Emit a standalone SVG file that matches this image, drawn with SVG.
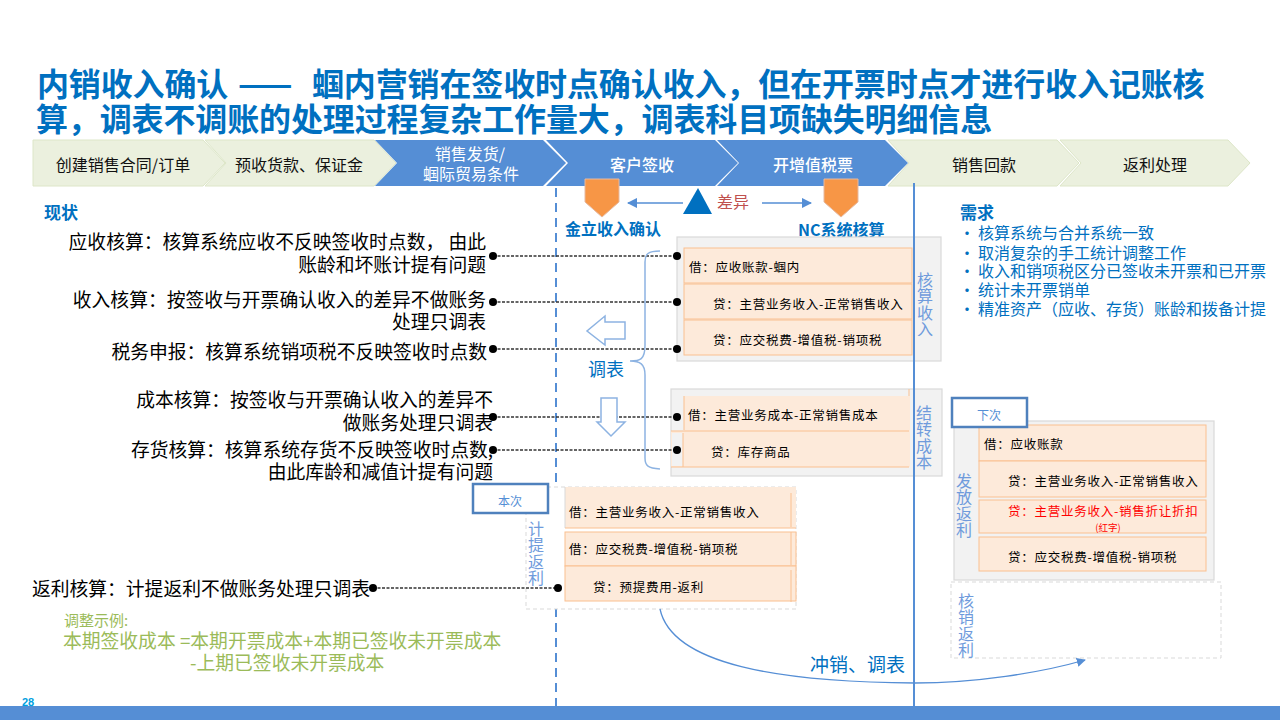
<svg xmlns="http://www.w3.org/2000/svg" width="1280" height="720" viewBox="0 0 1280 720">
<style>
text{font-family:"Noto Sans CJK SC","Liberation Sans",sans-serif}
.t{font-size:32px;font-weight:700;fill:#0070c0;letter-spacing:-.13px}
.cg{fill:#ebf0de;stroke:#dde6c8;stroke-width:1}
.cb{fill:#558ed5}
.cl{font-size:16px;text-anchor:middle;fill:#111}
.cw{font-size:16px;text-anchor:middle;fill:#fff}
.h{font-size:17px;font-weight:700;fill:#0070c0}
.b{font-size:18.8px;fill:#000;text-anchor:end}
.n{font-size:16px;fill:#0070c0}
.e{fill:#fdeada;stroke:#fac090;stroke-width:1}
.f{fill:#fdeada}
.o{stroke:#fac090;stroke-width:1;fill:none}
.g{fill:#f2f2f2;stroke:#d9d9d9;stroke-width:1.2}
.d{fill:#fff;stroke:#d9d9d9;stroke-width:1;stroke-dasharray:4 3}
.a{font-size:12.5px;fill:#000;letter-spacing:.75px}
.v{font-size:16px;fill:#6f9bdc;writing-mode:vertical-rl;letter-spacing:.3px}
.ln{stroke:#333;stroke-width:1.4;stroke-dasharray:3 1.5;fill:none}
.dot{fill:#000}
.box{fill:#fff;stroke:#4f81bd;stroke-width:2.5}
.bt{font-size:12px;fill:#558ed5;text-anchor:middle}
.ar{fill:#fff;stroke:#8db3e2;stroke-width:1.5}
.sh{fill:#f79646;stroke:#e6b9a0;stroke-width:1}
.gr{font-size:18.8px;fill:#9bbb59}
</style>
<defs>
<marker id="m" viewBox="0 0 10 10" refX="9" refY="5" markerWidth="7" markerHeight="7" orient="auto"><path d="M0 0L10 5L0 10Z" fill="#558ed5"/></marker>
</defs>
<g id="title">
<text class="t" y="96"><tspan x="37">内销收入确认</tspan><tspan x="238" letter-spacing="1">——</tspan><tspan x="312">蝈内营销在签收时点确认收入，但在开票时点才进行收入记账核</tspan></text>
<text class="t" x="36" y="131">算，调表不调账的处理过程复杂工作量大，调表科目项缺失明细信息</text>
</g>
<g id="process">
<path class="cg" d="M33 140H203L225 163L203 186H33Z"/>
<path class="cg" d="M205 140H374L396 163L374 186H205L226 163Z"/>
<path class="cb" d="M375 140H543L566 163L543 186H375L397 163Z"/>
<path class="cb" d="M546 140H715L738 163L715 186H546L568 163Z"/>
<path class="cb" d="M717 140H885L908 163L885 186H717L739 163Z"/>
<path class="cg" d="M888 140H1057L1079 163L1057 186H888L909 163Z"/>
<path class="cg" d="M1060 140H1228L1250 163L1228 186H1060L1081 163Z"/>
<text class="cl" x="123" y="171">创建销售合同/订单</text>
<text class="cl" x="299" y="171">预收货款、保证金</text>
<text class="cw" x="470" y="160">销售发货/</text>
<text class="cw" x="471" y="180">蝈际贸易条件</text>
<text class="cw" x="642" y="171" font-weight="500">客户签收</text>
<text class="cw" x="813" y="171" font-weight="500">开增值税票</text>
<text class="cl" x="984" y="171">销售回款</text>
<text class="cl" x="1155" y="171">返利处理</text>
</g>
<g id="guides">
<line x1="556" y1="188" x2="556" y2="706" stroke="#558ed5" stroke-width="2" stroke-dasharray="9 6"/>
</g>
<g id="status">
<text class="b" x="486" y="249">应收核算：核算系统应收不反映签收时点数， 由此</text>
<text class="b" x="486" y="272">账龄和坏账计提有问题</text>
<text class="b" x="486" y="307">收入核算：按签收与开票确认收入的差异不做账务</text>
<text class="b" x="486" y="329">处理只调表</text>
<text class="b" x="487" y="359">税务申报：核算系统销项税不反映签收时点数</text>
<text class="b" x="493" y="407">成本核算：按签收与开票确认收入的差异不</text>
<text class="b" x="493" y="430">做账务处理只调表</text>
<text class="b" x="493" y="457">存货核算：核算系统存货不反映签收时点数,</text>
<text class="b" x="493" y="479">由此库龄和减值计提有问题</text>
<text class="b" x="370" y="596">返利核算：计提返利不做账务处理只调表</text>
<text class="h" x="44" y="219">现状</text>
</g>
<g id="systems">
<path class="sh" d="M585 179H619V202L602 217L585 202Z"/>
<path class="sh" d="M824 179H858V202L841 217L824 202Z"/>
<path d="M683 214L698 188L712 214Z" fill="#0070c0"/>
<text x="717" y="208" font-size="16" fill="#c0504d">差异</text>
<text x="565" y="235" font-size="16" font-weight="700" fill="#0070c0">金立收入确认</text>
<text x="798" y="236" font-size="16" font-weight="700" fill="#0070c0">NC系统核算</text>
</g>
<g id="block-revenue">
<rect class="g" x="677" y="237" width="264" height="124"/>
<rect class="e" x="684" y="248" width="228" height="35"/>
<rect class="e" x="684" y="284" width="228" height="35"/>
<rect class="e" x="684" y="320" width="228" height="35"/>
<text class="a" x="689" y="272">借：应收账款-蝈内</text>
<text class="a" x="713" y="309">贷：主营业务收入-正常销售收入</text>
<text class="a" x="713" y="345">贷：应交税费-增值税-销项税</text>
<text class="v" x="925" y="272">核算收入</text>
</g>
<g id="block-cost">
<rect class="g" x="671" y="389" width="271" height="87"/>
<rect class="f" x="684" y="396" width="226" height="35"/>
<rect class="f" x="671" y="431" width="239" height="36"/>
<rect x="672" y="433" width="11" height="33" fill="#f2f2f2"/>
<path class="o" d="M684 396V430M909 389V396M671 431H909M683 433V467M671 467H909"/>
<text class="a" x="688" y="420">借：主营业务成本-正常销售成本</text>
<text class="a" x="711" y="457">贷：库存商品</text>
<text class="v" x="924" y="405">结转成本</text>
</g>
<g id="block-accrual">
<rect class="d" x="526" y="487" width="270" height="122"/>
<rect class="f" x="565" y="487" width="231" height="41"/>
<path d="M565 487V528" stroke="#d9d9d9" fill="none"/>
<path class="o" d="M565 528H796M791 493V527"/>
<rect class="e" x="565" y="532" width="231" height="34"/>
<rect class="e" x="565" y="566" width="231" height="35"/>
<line x1="791" y1="532" x2="791" y2="565" stroke="#fac090"/>
<line x1="791" y1="570" x2="791" y2="602" stroke="#fac090"/>
<text class="a" x="569" y="517">借：主营业务收入-正常销售收入</text>
<text class="a" x="569" y="554">借：应交税费-增值税-销项税</text>
<text class="a" x="593" y="592">贷：预提费用-返利</text>
<rect class="box" x="473" y="484" width="75" height="29"/>
<text class="bt" x="510" y="506">本次</text>
<text class="v" x="536" y="521">计提返利</text>
</g>
<g id="block-rebate">
<rect class="g" x="954" y="421" width="260" height="159"/>
<rect class="e" x="979" y="425" width="227" height="36"/>
<rect class="e" x="979" y="461" width="227" height="36"/>
<rect class="e" x="979" y="500" width="227" height="33"/>
<rect class="e" x="979" y="537" width="227" height="34"/>
<text class="a" x="984" y="449">借：应收账款</text>
<text class="a" x="1008" y="486">贷：主营业务收入-正常销售收入</text>
<text class="a" x="1008" y="516" style="fill:#f00">贷：主营业务收入-销售折让折扣</text>
<text x="1108" y="531" font-size="9.5" fill="#f00" text-anchor="middle">(红字)</text>
<text class="a" x="1008" y="562">贷：应交税费-增值税-销项税</text>
<rect class="box" x="952" y="398" width="75" height="29"/>
<text class="bt" x="989" y="420">下次</text>
<text class="v" x="964" y="473">发放返利</text>
</g>
<g id="block-writeoff">
<rect class="d" x="951" y="582" width="270" height="76"/>
<text class="v" x="966" y="593">核销返利</text>
</g>
<g id="connectors" fill="none">
<path class="ln" d="M493 256H677"/>
<path class="ln" d="M493 302H677"/>
<path class="ln" d="M493 349H677"/>
<path class="ln" d="M493 417H677"/>
<path class="ln" d="M493 450H677"/>
<path class="ln" d="M373 588H558"/>
<line x1="683" y1="203" x2="628" y2="203" stroke="#558ed5" stroke-width="1.5" marker-end="url(#m)"/>
<line x1="762" y1="203" x2="811" y2="203" stroke="#558ed5" stroke-width="1.5" marker-end="url(#m)"/>
<path d="M660 251C648 251 645 254 645 262V345C645 360 640 361 630 361C640 361 645 364 645 375V458C645 466 648 468 660 469" stroke="#8db3e2" stroke-width="1.5"/>
<path d="M660 609C672 665 780 682 915 683C975 683 1040 673 1085 660" stroke="#558ed5" stroke-width="1.3" marker-end="url(#m)"/>
<line x1="914" y1="183" x2="914" y2="706" stroke="#558ed5" stroke-width="2"/>
</g>
<g id="dots" class="dot">
<circle cx="493" cy="256" r="4"/><circle cx="677" cy="256" r="4"/>
<circle cx="493" cy="302" r="4"/><circle cx="677" cy="302" r="4"/>
<circle cx="493" cy="349" r="4"/><circle cx="677" cy="349" r="4"/>
<circle cx="493" cy="417" r="4"/><circle cx="677" cy="417" r="4"/>
<circle cx="493" cy="450" r="4"/><circle cx="677" cy="450" r="4"/>
<circle cx="373" cy="588" r="4"/><circle cx="558" cy="588" r="4"/>
</g>
<g id="adjust">
<path class="ar" d="M625 322H605V316L587 331L605 345V339H625Z"/>
<path class="ar" d="M601 398H617V422H625L611 436L597 422H601Z"/>
<text x="588" y="376" font-size="18" fill="#0070c0">调表</text>
<text x="810" y="672" font-size="19" fill="#0070c0">冲销、调表</text>
</g>
<g id="needs">
<text class="h" x="960" y="219">需求</text>
<text class="n" x="959" y="239">•</text><text class="n" x="978" y="239">核算系统与合并系统一致</text>
<text class="n" x="959" y="259">•</text><text class="n" x="978" y="259">取消复杂的手工统计调整工作</text>
<text class="n" x="959" y="277">•</text><text class="n" x="978" y="277">收入和销项税区分已签收未开票和已开票</text>
<text class="n" x="959" y="296">•</text><text class="n" x="978" y="296">统计未开票销单</text>
<text class="n" x="959" y="315">•</text><text class="n" x="978" y="315">精准资产（应收、存货）账龄和拨备计提</text>
</g>
<g id="example">
<text x="64" y="626" font-size="15" fill="#9bbb59">调整示例:</text>
<text class="gr" x="63" y="648">本期签收成本 =本期开票成本+本期已签收未开票成本</text>
<text class="gr" x="190" y="670">-上期已签收未开票成本</text>
</g>
<g id="footer">
<text x="22" y="706" font-size="11" font-weight="700" fill="#00a0e0" style="font-family:'Liberation Sans',sans-serif">28</text>
<rect x="0" y="706" width="1280" height="14" fill="#558ed5"/>
</g>
</svg>
